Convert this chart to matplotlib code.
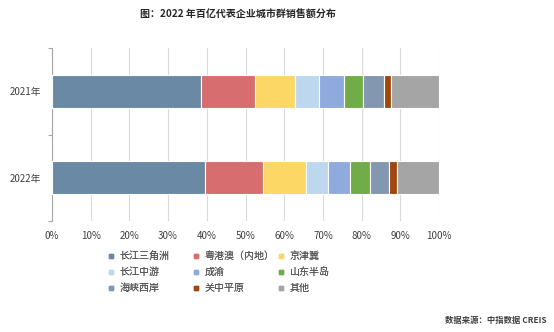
import matplotlib
matplotlib.use('Agg')
import matplotlib.pyplot as plt
from matplotlib.lines import Line2D
from matplotlib.ticker import PercentFormatter

plt.rcParams['font.family'] = ['Noto Sans CJK SC', 'DejaVu Sans']

# 数据（按图读取的近似值，单位 %）
years = ['2022年', '2021年']
regions = ['长江三角洲', '粤港澳（内地）', '京津冀', '长江中游', '成渝',
           '山东半岛', '海峡西岸', '关中平原', '其他']
share_2022 = [39.6, 15.0, 11.0, 5.7, 5.6, 5.2, 4.9, 2.1, 10.9]
share_2021 = [38.6, 13.9, 10.3, 6.1, 6.6, 4.8, 5.6, 1.8, 12.3]
colors = ['#6A89A5', '#D76D6E', '#FDD766', '#BDD7EE', '#8FAADC',
          '#70AD47', '#8497B0', '#9E480E', '#A5A5A5']

fig = plt.figure(figsize=(5.54, 3.32), dpi=100)
ax = fig.add_axes([52 / 554, 111 / 332, 387 / 554, 173 / 332])

values = [share_2022, share_2021]
lefts = [0, 0]
for i, reg in enumerate(regions):
    w = [values[0][i], values[1][i]]
    ax.barh(years, w, left=lefts, height=0.38, color=colors[i],
            edgecolor='white', linewidth=0.8, zorder=3, label=reg)
    lefts = [lefts[0] + w[0], lefts[1] + w[1]]

ax.set_xlim(0, 100)
ax.set_ylim(-0.5, 1.5)
ax.set_xticks(range(0, 101, 10))
ax.xaxis.set_major_formatter(PercentFormatter(decimals=0))
ax.grid(axis='x', color='#D9D9D9', linewidth=0.8, zorder=0)

for s in ['top', 'right', 'bottom']:
    ax.spines[s].set_visible(False)
ax.spines['left'].set_color('#A6A6A6')
ax.spines['left'].set_linewidth(0.8)

ax.tick_params(axis='x', length=0, labelsize=7, labelcolor='#404040', pad=7)
ax.tick_params(axis='y', which='major', length=0, labelsize=7,
               labelcolor='#404040', pad=8)
ax.set_yticks([-0.5, 0.5, 1.5], minor=True)
ax.tick_params(axis='y', which='minor', length=3, color='#A6A6A6', width=0.8)

fig.text(238 / 554, 1 - 15 / 332, '图：2022 年百亿代表企业城市群销售额分布',
         ha='center', va='center', fontsize=7.2, fontweight='bold', color='#262626')

# 图例：三列，按行排布
handles = [Line2D([], [], marker='s', linestyle='none', markersize=3.5,
                  markerfacecolor=c, markeredgecolor=c) for c in colors]
col_x = [108, 193, 278]
for c in range(3):
    idx = [c, c + 3, c + 6]
    leg = fig.legend([handles[k] for k in idx], [regions[k] for k in idx],
                     loc='upper left', bbox_to_anchor=(col_x[c] / 554, 1 - 251 / 332),
                     frameon=False, fontsize=7.2, borderpad=0, borderaxespad=0,
                     handlelength=0.6, handletextpad=0.55, labelspacing=0.6,
                     labelcolor='#595959')
    fig.add_artist(leg)

fig.text(547 / 554, 1 - 320 / 332, '数据来源：中指数据 CREIS', ha='right',
         va='center', fontsize=6, fontweight='bold', color='#404040')

fig.savefig('out.png', dpi=100)
